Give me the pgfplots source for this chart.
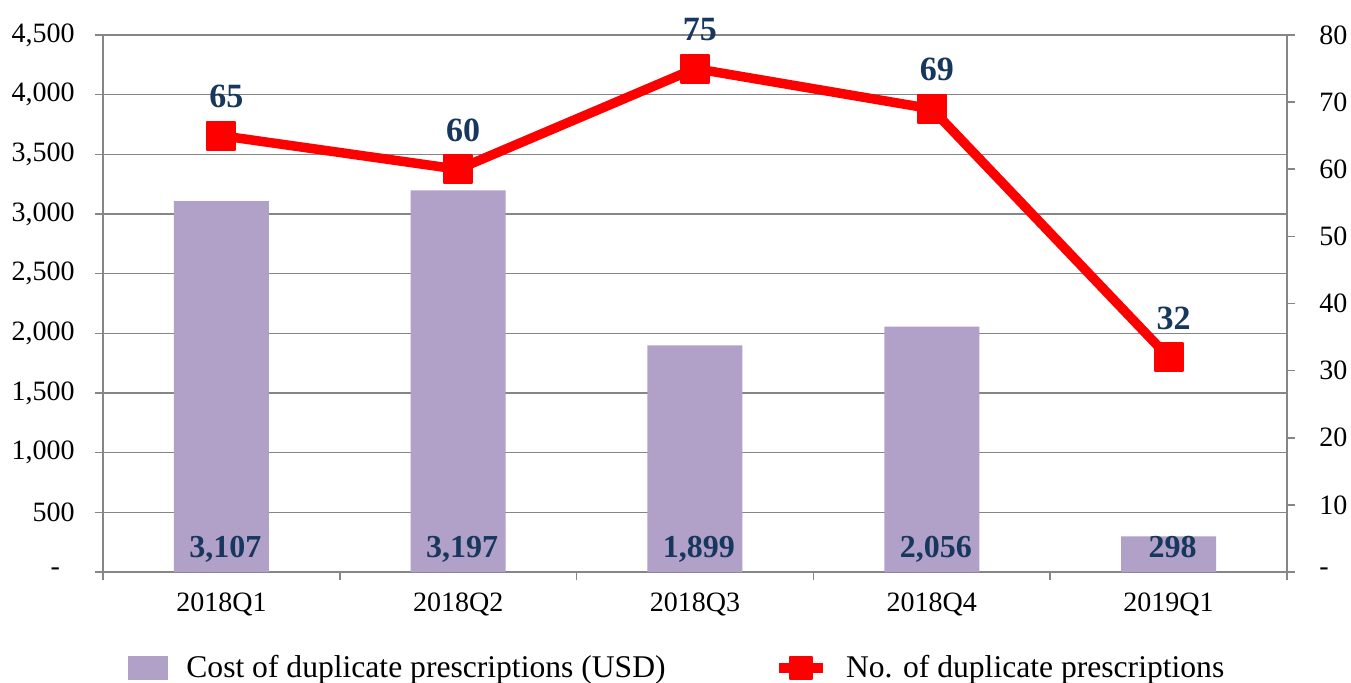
\documentclass[border=0pt]{standalone}
\usepackage{fontspec}
\setmainfont{Liberation Serif}
\usepackage{pgfplots}
\pgfplotsset{compat=1.18}
\usepackage{pgfplotstable}
\definecolor{barc}{HTML}{B1A0C7}
\definecolor{navy}{HTML}{17375E}
\definecolor{axgray}{HTML}{868686}
\pgfplotstableread{
x cost count zero
0 3107 65 0
1 3197 60 0
2 1899 75 0
3 2056 69 0
4 298 32 0
}\data
\pgfplotsset{
  barlegend/.style={legend image code/.code={\fill[##1] (0pt,-6pt) rectangle (20pt,6pt);}},
  linelegend/.style={legend image code/.code={\draw[mark repeat=2, mark phase=2, ##1, mark size=5.5pt] plot coordinates {(0pt,0pt)(11pt,0pt)(22pt,0pt)};}},
}
\begin{document}
\begin{tikzpicture}
\pgfplotsset{/pgf/number format/assume math mode=true}
\path[use as bounding box] (-51.5pt,-55pt) rectangle (624pt,286pt);
\begin{axis}[
  scale only axis, width=592pt, height=268.5pt,
  xmin=-0.5, xmax=4.5, ymin=0, ymax=4500,
  axis x line*=bottom, axis y line*=left,
  axis line style={axgray, line width=0.8pt},
  tick align=outside, major tick length=4pt, minor tick length=4pt,
  xtick={0,...,4}, xticklabels={2018Q1,2018Q2,2018Q3,2018Q4,2019Q1},
  minor xtick={-0.5,0.5,...,4.5},
  major x tick style={draw=none},
  minor x tick style={axgray, line width=0.8pt},
  ytick style={axgray, line width=0.8pt},
  ytick={0,500,...,4500},
  yticklabels={{\makebox[12pt][l]{-}},500,{1,000},{1,500},{2,000},{2,500},{3,000},{3,500},{4,000},{4,500}},
  ymajorgrids, major grid style={axgray, line width=0.8pt},
  yticklabel style={font=\fontsize{14}{16}\selectfont, inner sep=0pt, xshift=-10pt},
  xticklabel style={font=\fontsize{14}{16}\selectfont, inner sep=0pt, yshift=-6pt},
  /pgf/number format/1000 sep={,},
]
\addplot[ybar, bar width=47.5pt, fill=barc, draw=none] table[x=x,y=cost]{\data};
\addplot[draw=none, mark=none, nodes near coords, point meta=explicit,
  every node near coord/.append style={font=\fontsize{16}{18}\selectfont\bfseries, text=navy, anchor=base, xshift=2pt, yshift=7.5pt, inner sep=0pt}]
  table[x=x,y=zero,meta=cost]{\data};
\end{axis}
\begin{axis}[
  scale only axis, width=592pt, height=268.5pt,
  xmin=-0.5, xmax=4.5, ymin=0, ymax=80,
  axis x line=none, axis y line*=right,
  axis line style={axgray, line width=0.8pt},
  tick align=outside, major tick length=4pt,
  ytick style={axgray, line width=0.8pt},
  ytick={0,10,...,80},
  yticklabels={-,10,20,30,40,50,60,70,80},
  yticklabel style={font=\fontsize{14}{16}\selectfont, inner sep=0pt, anchor=west, xshift=12pt},
  legend style={draw=none, fill=none, inner sep=0pt, at={(0.0211,-0.1790)}, anchor=west,
    font=\fontsize{15.8}{18}\selectfont,
    /tikz/every odd column/.append style={column sep=7pt},
    /tikz/every even column/.append style={column sep=52.5pt}},
  legend columns=2,
]
\addlegendimage{fill=barc, draw=none, barlegend}
\addlegendentry{Cost of duplicate prescriptions (USD)}
\addplot[red, line width=4.75pt, line join=round, mark=square*, mark size=7pt,
  mark options={rounded corners=2pt, line width=1pt}, linelegend,
  nodes near coords, point meta=y,
  every node near coord/.append style={font=\fontsize{17}{19}\selectfont\bfseries, text=navy, anchor=base, xshift=2.5pt, yshift=14pt, inner sep=0pt}]
  table[x=x,y=count]{\data};
\addlegendentry{No. of duplicate prescriptions}
\end{axis}
\end{tikzpicture}
\end{document}
